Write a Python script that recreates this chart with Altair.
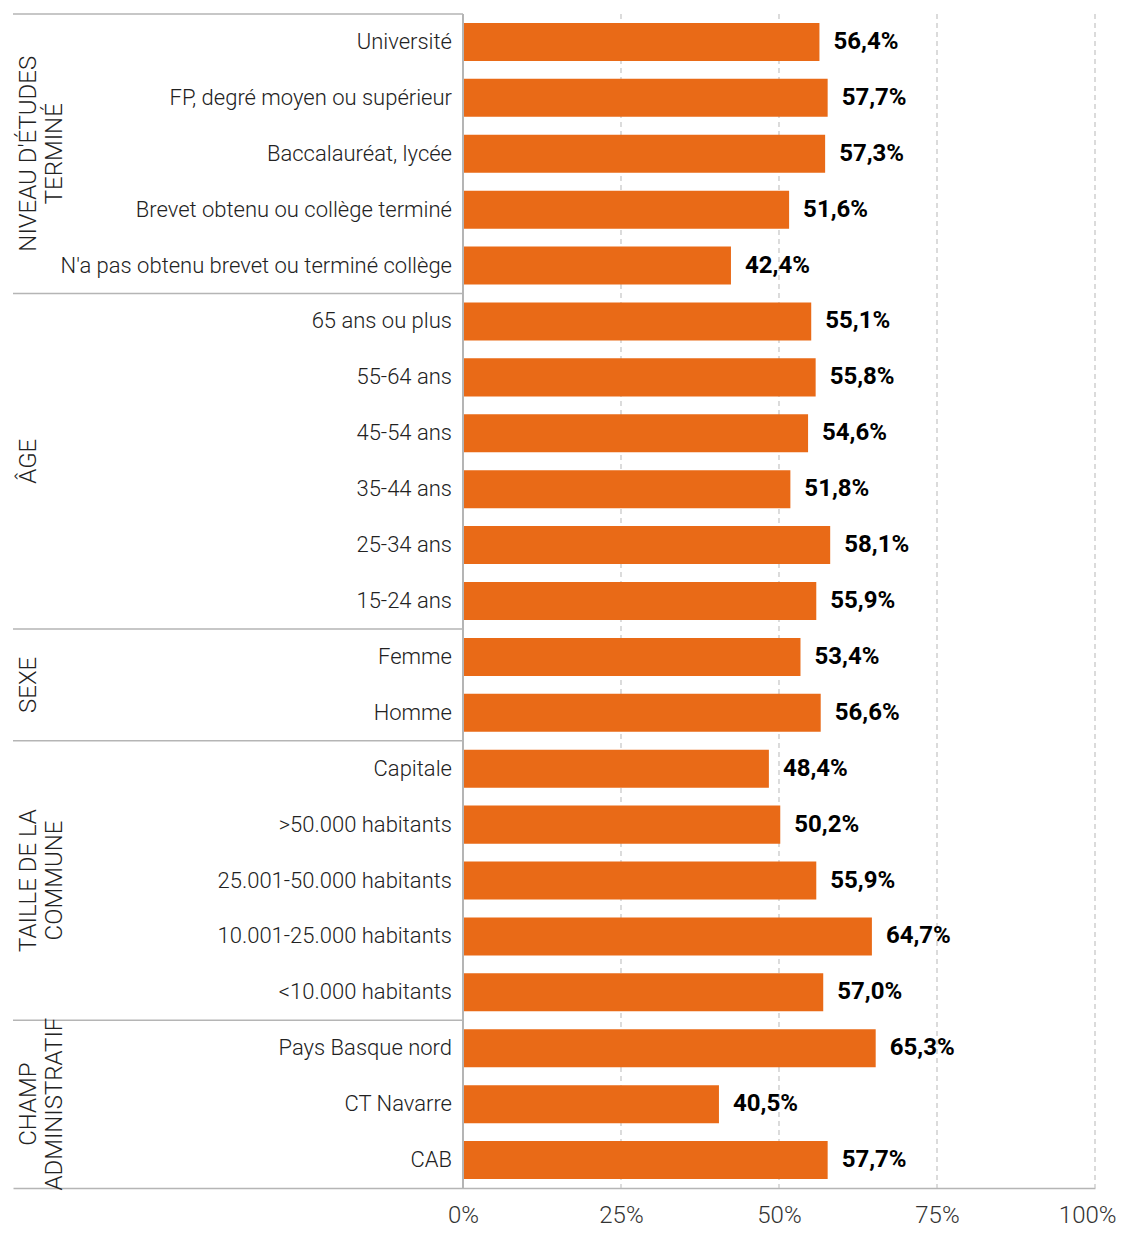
import altair as alt
import pandas as pd

categories = [
    "Université", "FP, degré moyen ou supérieur", "Baccalauréat, lycée",
    "Brevet obtenu ou collège terminé", "N'a pas obtenu brevet ou terminé collège",
    "65 ans ou plus", "55-64 ans", "45-54 ans", "35-44 ans", "25-34 ans", "15-24 ans",
    "Femme", "Homme",
    "Capitale", ">50.000 habitants", "25.001-50.000 habitants",
    "10.001-25.000 habitants", "<10.000 habitants",
    "Pays Basque nord", "CT Navarre", "CAB",
]
values = [56.4, 57.7, 57.3, 51.6, 42.4,
          55.1, 55.8, 54.6, 51.8, 58.1, 55.9,
          53.4, 56.6,
          48.4, 50.2, 55.9, 64.7, 57.0,
          65.3, 40.5, 57.7]
group_labels = ["NIVEAU D'ÉTUDES\nTERMINÉ", "ÂGE", "SEXE", "TAILLE DE LA\nCOMMUNE", "CHAMP\nADMINISTRATIF"]
group_sizes = [5, 6, 2, 5, 3]
x_ticks = [0, 25, 50, 75, 100]

X_MIN = -71.2
N = len(categories)
ORANGE = "#E96A17"
FONT = "Roboto"
LINE = "#b5b5b5"

bars_df = pd.DataFrame({"cat": categories, "v": values, "i": list(range(N))})
starts = []
s = 0
for g in group_sizes:
    starts.append(s)
    s += g
groups_df = pd.DataFrame({
    "g": group_labels,
    "start": starts,
    "mid": [st + sz / 2 for st, sz in zip(starts, group_sizes)],
})
grid_df = pd.DataFrame({"t": x_ticks[1:]})

xscale = alt.Scale(domain=[X_MIN, 100], nice=False, zero=False)
yscale = alt.Scale(domain=[0, N], reverse=True, nice=False, zero=False)

xaxis = alt.Axis(values=x_ticks, labelExpr="datum.value + '%'", grid=False, ticks=False,
                 domainColor=LINE, domainWidth=1.5, labelFontSize=24, labelFont=FONT,
                 labelFontWeight=300, labelPadding=15, labelColor="#333333", title=None,
                 labelFlush=2, labelFlushOffset=21, labelOverlap=False)

grid = alt.Chart(grid_df).mark_rule(color="#c4c4c4", strokeDash=[5, 4], strokeWidth=1.2).encode(
    x=alt.X("t:Q", scale=xscale, axis=xaxis)
)

zero_line = alt.Chart(grid_df).mark_rule(color=LINE, strokeWidth=1.5).encode(
    x=alt.datum(0, scale=xscale)
)

seps = alt.Chart(groups_df).mark_rule(color=LINE, strokeWidth=1.5).encode(
    x=alt.datum(X_MIN),
    x2=alt.datum(0),
    y=alt.Y("start:Q", scale=yscale, axis=None),
)

base = alt.Chart(bars_df).transform_calculate(
    y0="datum.i + 0.16", y1="datum.i + 0.84", ym="datum.i + 0.5",
    lab="replace(format(datum.v, '.1f'), '.', ',') + '%'",
)

bars = base.mark_bar(color=ORANGE).encode(
    x=alt.X("v:Q", scale=xscale, axis=xaxis),
    x2=alt.datum(0),
    y=alt.Y("y0:Q", scale=yscale, axis=None),
    y2="y1:Q",
)

cat_text = base.mark_text(align="right", baseline="middle", dx=-11, font=FONT,
                          fontWeight=300, fontSize=22, color="#222222").encode(
    x=alt.datum(0),
    y=alt.Y("ym:Q", scale=yscale, axis=None),
    text="cat:N",
)

val_text = base.mark_text(align="left", baseline="middle", dx=14, font=FONT,
                          fontWeight="bold", fontSize=24, color="#000000").encode(
    x=alt.X("v:Q", scale=xscale, axis=xaxis),
    y=alt.Y("ym:Q", scale=yscale, axis=None),
    text="lab:N",
)

grp_text = alt.Chart(groups_df).mark_text(angle=270, align="center", baseline="top",
                                          lineBreak="\n", lineHeight=26, font=FONT,
                                          fontWeight=300, fontSize=24, color="#222222").encode(
    x=alt.value(4),
    y=alt.Y("mid:Q", scale=yscale, axis=None),
    text="g:N",
)

chart = alt.layer(grid, bars, zero_line, seps, cat_text, val_text, grp_text).properties(
    width=1082, height=1174,
    autosize=alt.AutoSizeParams(type="none"),
    padding={"left": 5, "top": 6, "right": 22, "bottom": 42},
).configure_view(stroke=None)

chart.save("out.html", embed_options={"renderer": "svg", "actions": False})
